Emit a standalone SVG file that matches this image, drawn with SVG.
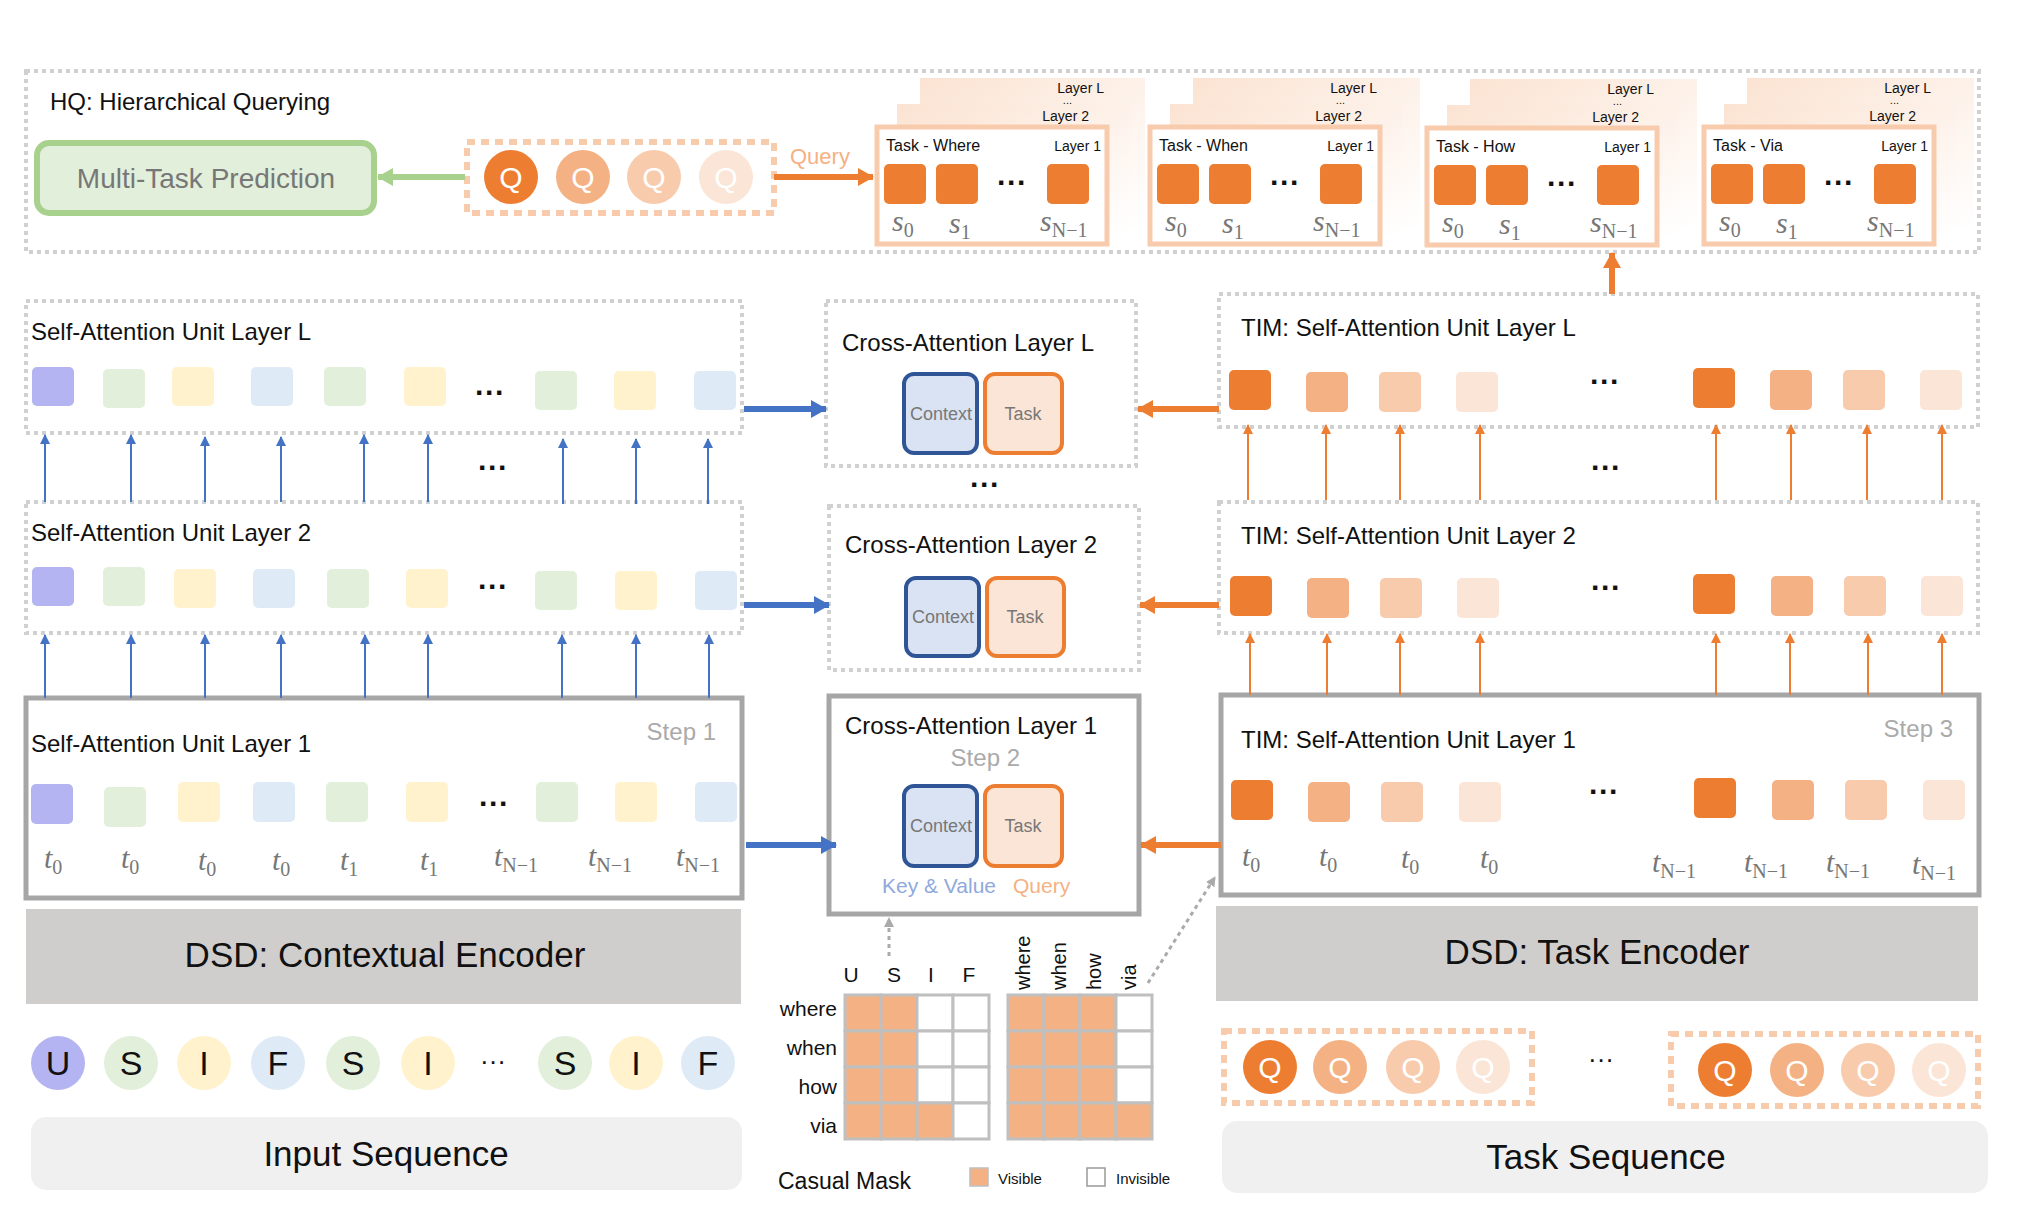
<svg xmlns="http://www.w3.org/2000/svg" width="2020" height="1230" viewBox="0 0 2020 1230">
<style>
text{font-family:"Liberation Sans",Arial,sans-serif}
.k{fill:#111}
.dash{fill:none;stroke:#d0d0d0;stroke-width:4;stroke-dasharray:4 4}
.solid{fill:#fff;stroke:#a6a6a6;stroke-width:5}
.t24{font-size:24px;fill:#111}
.big{font-size:35px;fill:#111}
.small{font-size:14px;fill:#111}
.math{font-family:"Liberation Serif",serif;font-style:italic;font-size:30px;fill:#777}
.sub{font-size:20px;font-style:normal}
.bl{stroke:#4472c4;stroke-width:2}
.or{stroke:#ed7d31;stroke-width:2}
.ctx{fill:#dae3f3;stroke:#2f5597;stroke-width:4}
.tsk{fill:#fbe5d6;stroke:#ed7d31;stroke-width:4}
.lbl{font-size:18px;fill:#777;text-anchor:middle}
.c1{fill:#ed7d31}.c2{fill:#f4b183}.c3{fill:#f8cbad}.c4{fill:#fbe5d6}
.pu{fill:#b4b4f2}.gr{fill:#e2efda}.ye{fill:#fff2cc}.bu{fill:#deebf7}
.q{font-size:30px;fill:#fff;text-anchor:middle}
.qbox{fill:none;stroke:#f8cbad;stroke-width:6;stroke-dasharray:8 6}
.step{font-size:24px;fill:#aaa;text-anchor:end}
.grid{stroke:#bfbfbf;stroke-width:3}
.dots{font-size:30px;text-anchor:middle;font-weight:bold;fill:#111}
</style>
<defs>
<marker id="ab" markerWidth="10" markerHeight="10" refX="9" refY="5" orient="auto" markerUnits="userSpaceOnUse"><path d="M0,0 L10,5 L0,10 Z" fill="#4472c4"/></marker>
<marker id="ao" markerWidth="10" markerHeight="10" refX="9" refY="5" orient="auto" markerUnits="userSpaceOnUse"><path d="M0,0 L10,5 L0,10 Z" fill="#ed7d31"/></marker>
<marker id="abt" markerWidth="16" markerHeight="18" refX="15" refY="9" orient="auto" markerUnits="userSpaceOnUse"><path d="M0,0 L16,9 L0,18 Z" fill="#4472c4"/></marker>
<marker id="aot" markerWidth="16" markerHeight="18" refX="15" refY="9" orient="auto" markerUnits="userSpaceOnUse"><path d="M0,0 L16,9 L0,18 Z" fill="#ed7d31"/></marker>
<marker id="agt" markerWidth="16" markerHeight="18" refX="15" refY="9" orient="auto" markerUnits="userSpaceOnUse"><path d="M0,0 L16,9 L0,18 Z" fill="#a9d18e"/></marker>
<marker id="agr" markerWidth="10" markerHeight="10" refX="9" refY="5" orient="auto" markerUnits="userSpaceOnUse"><path d="M0,0 L10,5 L0,10 Z" fill="#aaa"/></marker>
<linearGradient id="fade" x1="0" y1="0" x2="1" y2="1"><stop offset="0" stop-color="#fbe3d2"/><stop offset="1" stop-color="#fff"/></linearGradient>
</defs>

<g id="hq">
<rect class="dash" x="26" y="71" width="1953" height="181"/>
<text class="t24" x="50" y="110">HQ: Hierarchical Querying</text>
</g>
<g id="mtp">
<rect x="37" y="143" width="337" height="70" rx="12" fill="#e2efda" stroke="#a9d18e" stroke-width="6"/>
<text x="206" y="188" style="font-size:28px;fill:#777" text-anchor="middle">Multi-Task Prediction</text>
</g>
<g id="qtop">
<rect class="qbox" x="467" y="142" width="307" height="71"/>
<circle class="c1" cx="511" cy="177" r="27"/><circle class="c2" cx="583" cy="177" r="27"/><circle class="c3" cx="654" cy="177" r="27"/><circle class="c4" cx="726" cy="177" r="27"/>
<text class="q" x="511" y="188">Q</text><text class="q" x="583" y="188">Q</text><text class="q" x="654" y="188">Q</text><text class="q" x="726" y="188">Q</text>
<text x="790" y="164" style="font-size:22px;fill:#f4b183">Query</text>
</g>

<g id="task-where" transform="translate(877,0)">
<rect x="43" y="78" width="225" height="150" fill="url(#fade)"/><rect x="20" y="104" width="232" height="130" fill="url(#fade)"/>
<rect x="0" y="127" width="230" height="117" fill="#fff" stroke="#f8cbad" stroke-width="5"/>
<text class="small" x="227" y="93" text-anchor="end">Layer L</text><text class="small" x="195" y="104" text-anchor="end" style="font-size:11px">...</text>
<text class="small" x="212" y="121" text-anchor="end">Layer 2</text>
<text class="small" x="224" y="151" text-anchor="end">Layer 1</text>
<text class="k" x="9" y="151" font-size="16">Task - Where</text>
<rect class="c1" x="7" y="164" width="42" height="40" rx="5"/><rect class="c1" x="59" y="164" width="42" height="40" rx="5"/><rect class="c1" x="170" y="164" width="42" height="40" rx="5"/>
<text class="dots" x="135" y="193">···</text>
<text class="math" x="15" y="231">s<tspan class="sub" dy="6">0</tspan></text>
<text class="math" x="72" y="233">s<tspan class="sub" dy="6">1</tspan></text>
<text class="math" x="163" y="231">s<tspan class="sub" dy="6">N−1</tspan></text>
</g>
<g id="task-when" transform="translate(1150,0)">
<rect x="43" y="78" width="227" height="150" fill="url(#fade)"/><rect x="20" y="104" width="232" height="130" fill="url(#fade)"/>
<rect x="0" y="127" width="230" height="117" fill="#fff" stroke="#f8cbad" stroke-width="5"/>
<text class="small" x="227" y="93" text-anchor="end">Layer L</text><text class="small" x="195" y="104" text-anchor="end" style="font-size:11px">...</text>
<text class="small" x="212" y="121" text-anchor="end">Layer 2</text>
<text class="small" x="224" y="151" text-anchor="end">Layer 1</text>
<text class="k" x="9" y="151" font-size="16">Task - When</text>
<rect class="c1" x="7" y="164" width="42" height="40" rx="5"/><rect class="c1" x="59" y="164" width="42" height="40" rx="5"/><rect class="c1" x="170" y="164" width="42" height="40" rx="5"/>
<text class="dots" x="135" y="193">···</text>
<text class="math" x="15" y="231">s<tspan class="sub" dy="6">0</tspan></text>
<text class="math" x="72" y="233">s<tspan class="sub" dy="6">1</tspan></text>
<text class="math" x="163" y="231">s<tspan class="sub" dy="6">N−1</tspan></text>
</g>
<g id="task-how" transform="translate(1427,1)">
<rect x="43" y="78" width="227" height="150" fill="url(#fade)"/><rect x="20" y="104" width="232" height="130" fill="url(#fade)"/>
<rect x="0" y="127" width="230" height="117" fill="#fff" stroke="#f8cbad" stroke-width="5"/>
<text class="small" x="227" y="93" text-anchor="end">Layer L</text><text class="small" x="195" y="104" text-anchor="end" style="font-size:11px">...</text>
<text class="small" x="212" y="121" text-anchor="end">Layer 2</text>
<text class="small" x="224" y="151" text-anchor="end">Layer 1</text>
<text class="k" x="9" y="151" font-size="16">Task - How</text>
<rect class="c1" x="7" y="164" width="42" height="40" rx="5"/><rect class="c1" x="59" y="164" width="42" height="40" rx="5"/><rect class="c1" x="170" y="164" width="42" height="40" rx="5"/>
<text class="dots" x="135" y="193">···</text>
<text class="math" x="15" y="231">s<tspan class="sub" dy="6">0</tspan></text>
<text class="math" x="72" y="233">s<tspan class="sub" dy="6">1</tspan></text>
<text class="math" x="163" y="231">s<tspan class="sub" dy="6">N−1</tspan></text>
</g>
<g id="task-via" transform="translate(1704,0)">
<rect x="43" y="78" width="227" height="150" fill="url(#fade)"/><rect x="20" y="104" width="232" height="130" fill="url(#fade)"/>
<rect x="0" y="127" width="230" height="117" fill="#fff" stroke="#f8cbad" stroke-width="5"/>
<text class="small" x="227" y="93" text-anchor="end">Layer L</text><text class="small" x="195" y="104" text-anchor="end" style="font-size:11px">...</text>
<text class="small" x="212" y="121" text-anchor="end">Layer 2</text>
<text class="small" x="224" y="151" text-anchor="end">Layer 1</text>
<text class="k" x="9" y="151" font-size="16">Task - Via</text>
<rect class="c1" x="7" y="164" width="42" height="40" rx="5"/><rect class="c1" x="59" y="164" width="42" height="40" rx="5"/><rect class="c1" x="170" y="164" width="42" height="40" rx="5"/>
<text class="dots" x="135" y="193">···</text>
<text class="math" x="15" y="231">s<tspan class="sub" dy="6">0</tspan></text>
<text class="math" x="72" y="233">s<tspan class="sub" dy="6">1</tspan></text>
<text class="math" x="163" y="231">s<tspan class="sub" dy="6">N−1</tspan></text>
</g>

<g id="sa-L">
<rect class="dash" x="26" y="301" width="716" height="132"/>
<text class="t24" x="31" y="340">Self-Attention Unit Layer L</text>
<g transform="translate(0,367)">
<rect class="pu" x="32" y="0" width="42" height="39" rx="5"/><rect class="gr" x="103" y="2" width="42" height="39" rx="5"/><rect class="ye" x="172" y="0" width="42" height="39" rx="5"/><rect class="bu" x="251" y="0" width="42" height="39" rx="5"/><rect class="gr" x="324" y="0" width="42" height="39" rx="5"/><rect class="ye" x="404" y="0" width="42" height="39" rx="5"/><rect class="gr" x="535" y="4" width="42" height="39" rx="5"/><rect class="ye" x="614" y="4" width="42" height="39" rx="5"/><rect class="bu" x="694" y="4" width="42" height="39" rx="5"/>
<text class="dots" x="490" y="36">···</text>
</g>
</g>
<g id="sa-2">
<rect class="dash" x="26" y="502" width="716" height="131"/>
<text class="t24" x="31" y="541">Self-Attention Unit Layer 2</text>
<g transform="translate(0,567)">
<rect class="pu" x="32" y="0" width="42" height="39" rx="5"/><rect class="gr" x="103" y="0" width="42" height="39" rx="5"/><rect class="ye" x="174" y="2" width="42" height="39" rx="5"/><rect class="bu" x="253" y="2" width="42" height="39" rx="5"/><rect class="gr" x="327" y="2" width="42" height="39" rx="5"/><rect class="ye" x="406" y="2" width="42" height="39" rx="5"/><rect class="gr" x="535" y="4" width="42" height="39" rx="5"/><rect class="ye" x="615" y="4" width="42" height="39" rx="5"/><rect class="bu" x="695" y="4" width="42" height="39" rx="5"/>
<text class="dots" x="493" y="30">···</text>
</g>
</g>
<g id="sa-1">
<rect class="solid" x="26" y="698" width="716" height="200"/>
<text class="t24" x="31" y="752">Self-Attention Unit Layer 1</text>
<text class="step" x="716" y="740">Step 1</text>
<g transform="translate(0,784)">
<rect class="pu" x="31" y="0" width="42" height="40" rx="5"/><rect class="gr" x="104" y="3" width="42" height="40" rx="5"/><rect class="ye" x="178" y="-2" width="42" height="40" rx="5"/><rect class="bu" x="253" y="-2" width="42" height="40" rx="5"/><rect class="gr" x="326" y="-2" width="42" height="40" rx="5"/><rect class="ye" x="406" y="-2" width="42" height="40" rx="5"/><rect class="gr" x="536" y="-2" width="42" height="40" rx="5"/><rect class="ye" x="615" y="-2" width="42" height="40" rx="5"/><rect class="bu" x="695" y="-2" width="42" height="40" rx="5"/>
<text class="dots" x="494" y="30">···</text>
</g>
<text class="math" x="44" y="868">t<tspan class="sub" dy="6">0</tspan></text>
<text class="math" x="121" y="868">t<tspan class="sub" dy="6">0</tspan></text>
<text class="math" x="198" y="870">t<tspan class="sub" dy="6">0</tspan></text>
<text class="math" x="272" y="870">t<tspan class="sub" dy="6">0</tspan></text>
<text class="math" x="340" y="870">t<tspan class="sub" dy="6">1</tspan></text>
<text class="math" x="420" y="870">t<tspan class="sub" dy="6">1</tspan></text>
<text class="math" x="494" y="866">t<tspan class="sub" dy="6">N−1</tspan></text>
<text class="math" x="588" y="866">t<tspan class="sub" dy="6">N−1</tspan></text>
<text class="math" x="676" y="866">t<tspan class="sub" dy="6">N−1</tspan></text>
</g>
<g id="dsd-ctx">
<rect x="26" y="909" width="715" height="95" fill="#d0cecc"/>
<text class="big" x="385" y="967" text-anchor="middle">DSD: Contextual Encoder</text>
</g>
<g id="input-tokens">
<circle class="pu" cx="58" cy="1063" r="27"/><circle class="gr" cx="131" cy="1063" r="27"/><circle class="ye" cx="204" cy="1063" r="27"/><circle class="bu" cx="278" cy="1063" r="27"/><circle class="gr" cx="353" cy="1063" r="27"/><circle class="ye" cx="428" cy="1063" r="27"/><circle class="gr" cx="565" cy="1063" r="27"/><circle class="ye" cx="636" cy="1063" r="27"/><circle class="bu" cx="708" cy="1063" r="27"/>
<g text-anchor="middle" style="font-family:'DejaVu Sans Mono',monospace;font-size:34px;fill:#111">
<text x="58" y="1075">U</text><text x="131" y="1075">S</text><text x="204" y="1075">I</text><text x="278" y="1075">F</text><text x="353" y="1075">S</text><text x="428" y="1075">I</text><text x="565" y="1075">S</text><text x="636" y="1075">I</text><text x="708" y="1075">F</text>
<text x="493" y="1070" style="font-size:26px">···</text>
</g>
</g>
<g id="input-seq">
<rect x="31" y="1117" width="711" height="73" rx="15" fill="#f0f0f0"/>
<text class="big" x="386" y="1166" text-anchor="middle">Input Sequence</text>
</g>

<g id="ca-L">
<rect class="dash" x="826" y="301" width="310" height="165"/>
<text class="t24" x="842" y="351">Cross-Attention  Layer L</text>
<rect class="ctx" x="904" y="374" width="73" height="79" rx="10"/><rect class="tsk" x="985" y="374" width="77" height="79" rx="10"/>
<text class="lbl" x="941" y="420">Context</text><text class="lbl" x="1023" y="420">Task</text>
</g>
<text class="dots" x="985" y="495">···</text>
<g id="ca-2">
<rect class="dash" x="829" y="506" width="310" height="164"/>
<text class="t24" x="845" y="553">Cross-Attention  Layer 2</text>
<rect class="ctx" x="906" y="578" width="73" height="78" rx="10"/><rect class="tsk" x="987" y="578" width="77" height="78" rx="10"/>
<text class="lbl" x="943" y="623">Context</text><text class="lbl" x="1025" y="623">Task</text>
</g>
<g id="ca-1">
<rect class="solid" x="829" y="696" width="310" height="218"/>
<text class="t24" x="845" y="734">Cross-Attention  Layer 1</text>
<text class="step" x="1020" y="766">Step 2</text>
<rect class="ctx" x="904" y="786" width="73" height="80" rx="10"/><rect class="tsk" x="985" y="786" width="77" height="80" rx="10"/>
<text class="lbl" x="941" y="832">Context</text><text class="lbl" x="1023" y="832">Task</text>
<text x="882" y="893" style="font-size:21px;fill:#8fa9dc">Key &amp; Value</text>
<text x="1013" y="893" style="font-size:21px;fill:#f4b183">Query</text>
</g>

<g id="mask">
<g text-anchor="middle" style="font-size:21px;fill:#111"><text x="851" y="982">U</text><text x="894" y="982">S</text><text x="931" y="982">I</text><text x="969" y="982">F</text></g>
<g text-anchor="end" style="font-size:21px;fill:#111"><text x="837" y="1016">where</text><text x="837" y="1055">when</text><text x="837" y="1094">how</text><text x="837" y="1133">via</text></g>
<g style="font-size:20px;fill:#111">
<text transform="translate(1030,990) rotate(-90)">where</text>
<text transform="translate(1066,990) rotate(-90)">when</text>
<text transform="translate(1101,990) rotate(-90)">how</text>
<text transform="translate(1136,990) rotate(-90)">via</text>
</g>
<g class="grid">
<rect x="845" y="995" width="36" height="36" fill="#f4b183"/><rect x="881" y="995" width="36" height="36" fill="#f4b183"/><rect x="917" y="995" width="36" height="36" fill="#fff"/><rect x="953" y="995" width="36" height="36" fill="#fff"/>
<rect x="845" y="1031" width="36" height="36" fill="#f4b183"/><rect x="881" y="1031" width="36" height="36" fill="#f4b183"/><rect x="917" y="1031" width="36" height="36" fill="#fff"/><rect x="953" y="1031" width="36" height="36" fill="#fff"/>
<rect x="845" y="1067" width="36" height="36" fill="#f4b183"/><rect x="881" y="1067" width="36" height="36" fill="#f4b183"/><rect x="917" y="1067" width="36" height="36" fill="#fff"/><rect x="953" y="1067" width="36" height="36" fill="#fff"/>
<rect x="845" y="1103" width="36" height="36" fill="#f4b183"/><rect x="881" y="1103" width="36" height="36" fill="#f4b183"/><rect x="917" y="1103" width="36" height="36" fill="#f4b183"/><rect x="953" y="1103" width="36" height="36" fill="#fff"/>
<rect x="1008" y="995" width="36" height="36" fill="#f4b183"/><rect x="1044" y="995" width="36" height="36" fill="#f4b183"/><rect x="1080" y="995" width="36" height="36" fill="#f4b183"/><rect x="1116" y="995" width="36" height="36" fill="#fff"/>
<rect x="1008" y="1031" width="36" height="36" fill="#f4b183"/><rect x="1044" y="1031" width="36" height="36" fill="#f4b183"/><rect x="1080" y="1031" width="36" height="36" fill="#f4b183"/><rect x="1116" y="1031" width="36" height="36" fill="#fff"/>
<rect x="1008" y="1067" width="36" height="36" fill="#f4b183"/><rect x="1044" y="1067" width="36" height="36" fill="#f4b183"/><rect x="1080" y="1067" width="36" height="36" fill="#f4b183"/><rect x="1116" y="1067" width="36" height="36" fill="#fff"/>
<rect x="1008" y="1103" width="36" height="36" fill="#f4b183"/><rect x="1044" y="1103" width="36" height="36" fill="#f4b183"/><rect x="1080" y="1103" width="36" height="36" fill="#f4b183"/><rect x="1116" y="1103" width="36" height="36" fill="#f4b183"/>
</g>
<text x="778" y="1189" style="font-size:23px;fill:#111">Casual Mask</text>
<rect x="970" y="1168" width="18" height="18" fill="#f4b183" stroke="#bfbfbf" stroke-width="1.5"/>
<text x="998" y="1184" style="font-size:15px;fill:#111">Visible</text>
<rect x="1087" y="1168" width="18" height="18" fill="#fff" stroke="#999" stroke-width="1.5"/>
<text x="1116" y="1184" style="font-size:15px;fill:#111">Invisible</text>
</g>

<g id="tim-L">
<rect class="dash" x="1219" y="294" width="759" height="133"/>
<text class="t24" x="1241" y="336">TIM: Self-Attention Unit Layer L</text>
<g transform="translate(0,370)">
<rect class="c1" x="1229" y="0" width="42" height="40" rx="5"/><rect class="c2" x="1306" y="2" width="42" height="40" rx="5"/><rect class="c3" x="1379" y="2" width="42" height="40" rx="5"/><rect class="c4" x="1456" y="2" width="42" height="40" rx="5"/><rect class="c1" x="1693" y="-2" width="42" height="40" rx="5"/><rect class="c2" x="1770" y="0" width="42" height="40" rx="5"/><rect class="c3" x="1843" y="0" width="42" height="40" rx="5"/><rect class="c4" x="1920" y="0" width="42" height="40" rx="5"/>
<text class="dots" x="1605" y="22">···</text>
</g>
</g>
<g id="tim-2">
<rect class="dash" x="1219" y="502" width="759" height="131"/>
<text class="t24" x="1241" y="544">TIM: Self-Attention Unit Layer 2</text>
<g transform="translate(0,576)">
<rect class="c1" x="1230" y="0" width="42" height="40" rx="5"/><rect class="c2" x="1307" y="2" width="42" height="40" rx="5"/><rect class="c3" x="1380" y="2" width="42" height="40" rx="5"/><rect class="c4" x="1457" y="2" width="42" height="40" rx="5"/><rect class="c1" x="1693" y="-2" width="42" height="40" rx="5"/><rect class="c2" x="1771" y="0" width="42" height="40" rx="5"/><rect class="c3" x="1844" y="0" width="42" height="40" rx="5"/><rect class="c4" x="1921" y="0" width="42" height="40" rx="5"/>
<text class="dots" x="1606" y="22">···</text>
</g>
</g>
<g id="tim-1">
<rect class="solid" x="1221" y="695" width="758" height="200"/>
<text class="t24" x="1241" y="748">TIM: Self-Attention Unit Layer 1</text>
<text class="step" x="1953" y="737">Step 3</text>
<g transform="translate(0,780)">
<rect class="c1" x="1231" y="0" width="42" height="40" rx="5"/><rect class="c2" x="1308" y="2" width="42" height="40" rx="5"/><rect class="c3" x="1381" y="2" width="42" height="40" rx="5"/><rect class="c4" x="1459" y="2" width="42" height="40" rx="5"/><rect class="c1" x="1694" y="-2" width="42" height="40" rx="5"/><rect class="c2" x="1772" y="0" width="42" height="40" rx="5"/><rect class="c3" x="1845" y="0" width="42" height="40" rx="5"/><rect class="c4" x="1923" y="0" width="42" height="40" rx="5"/>
<text class="dots" x="1604" y="22">···</text>
</g>
<text class="math" x="1242" y="866">t<tspan class="sub" dy="6">0</tspan></text>
<text class="math" x="1319" y="866">t<tspan class="sub" dy="6">0</tspan></text>
<text class="math" x="1401" y="868">t<tspan class="sub" dy="6">0</tspan></text>
<text class="math" x="1480" y="868">t<tspan class="sub" dy="6">0</tspan></text>
<text class="math" x="1652" y="872">t<tspan class="sub" dy="6">N−1</tspan></text>
<text class="math" x="1744" y="872">t<tspan class="sub" dy="6">N−1</tspan></text>
<text class="math" x="1826" y="872">t<tspan class="sub" dy="6">N−1</tspan></text>
<text class="math" x="1912" y="874">t<tspan class="sub" dy="6">N−1</tspan></text>
</g>
<g id="dsd-task">
<rect x="1216" y="906" width="762" height="95" fill="#d0cecc"/>
<text class="big" x="1597" y="964" text-anchor="middle">DSD: Task Encoder</text>
</g>
<g id="task-queries">
<rect class="qbox" x="1224" y="1031" width="308" height="72"/>
<circle class="c1" cx="1270" cy="1067" r="27"/><circle class="c2" cx="1340" cy="1067" r="27"/><circle class="c3" cx="1413" cy="1067" r="27"/><circle class="c4" cx="1483" cy="1067" r="27"/>
<text class="q" x="1270" y="1078">Q</text><text class="q" x="1340" y="1078">Q</text><text class="q" x="1413" y="1078">Q</text><text class="q" x="1483" y="1078">Q</text>
<text x="1601" y="1068" style="font-size:26px;fill:#111" text-anchor="middle">···</text>
<rect class="qbox" x="1671" y="1034" width="307" height="72"/>
<circle class="c1" cx="1725" cy="1070" r="27"/><circle class="c2" cx="1797" cy="1070" r="27"/><circle class="c3" cx="1868" cy="1070" r="27"/><circle class="c4" cx="1939" cy="1070" r="27"/>
<text class="q" x="1725" y="1081">Q</text><text class="q" x="1797" y="1081">Q</text><text class="q" x="1868" y="1081">Q</text><text class="q" x="1939" y="1081">Q</text>
</g>
<g id="task-seq">
<rect x="1222" y="1121" width="766" height="72" rx="15" fill="#f0f0f0"/>
<text class="big" x="1606" y="1169" text-anchor="middle">Task Sequence</text>
</g>

<g id="connectors" fill="none">
<line x1="465" y1="177" x2="378" y2="177" stroke="#a9d18e" stroke-width="6" marker-end="url(#agt)"/>
<line x1="774" y1="177" x2="873" y2="177" stroke="#ed7d31" stroke-width="6" marker-end="url(#aot)"/>
<line x1="1612" y1="294" x2="1612" y2="253" stroke="#ed7d31" stroke-width="6" marker-end="url(#aot)"/>
<line x1="744" y1="409" x2="826" y2="409" stroke="#4472c4" stroke-width="6" marker-end="url(#abt)"/>
<line x1="744" y1="605" x2="829" y2="605" stroke="#4472c4" stroke-width="6" marker-end="url(#abt)"/>
<line x1="746" y1="845" x2="836" y2="845" stroke="#4472c4" stroke-width="6" marker-end="url(#abt)"/>
<line x1="1219" y1="409" x2="1138" y2="409" stroke="#ed7d31" stroke-width="6" marker-end="url(#aot)"/>
<line x1="1219" y1="605" x2="1140" y2="605" stroke="#ed7d31" stroke-width="6" marker-end="url(#aot)"/>
<line x1="1221" y1="845" x2="1141" y2="845" stroke="#ed7d31" stroke-width="6" marker-end="url(#aot)"/>
<line x1="889" y1="956" x2="889" y2="918" stroke="#aaa" stroke-width="3" stroke-dasharray="4 4" marker-end="url(#agr)"/>
<line x1="1148" y1="983" x2="1215" y2="877" stroke="#aaa" stroke-width="3" stroke-dasharray="4 4" marker-end="url(#agr)"/>
<g class="bl">
<line x1="45" y1="502" x2="45" y2="435" marker-end="url(#ab)"/><line x1="131" y1="502" x2="131" y2="435" marker-end="url(#ab)"/><line x1="205" y1="502" x2="205" y2="437" marker-end="url(#ab)"/><line x1="281" y1="502" x2="281" y2="437" marker-end="url(#ab)"/><line x1="364" y1="502" x2="364" y2="435" marker-end="url(#ab)"/><line x1="428" y1="502" x2="428" y2="435" marker-end="url(#ab)"/><line x1="563" y1="504" x2="563" y2="439" marker-end="url(#ab)"/><line x1="636" y1="504" x2="636" y2="439" marker-end="url(#ab)"/><line x1="708" y1="504" x2="708" y2="439" marker-end="url(#ab)"/>
<line x1="45" y1="698" x2="45" y2="635" marker-end="url(#ab)"/><line x1="131" y1="698" x2="131" y2="635" marker-end="url(#ab)"/><line x1="205" y1="698" x2="205" y2="635" marker-end="url(#ab)"/><line x1="281" y1="698" x2="281" y2="635" marker-end="url(#ab)"/><line x1="365" y1="698" x2="365" y2="635" marker-end="url(#ab)"/><line x1="428" y1="698" x2="428" y2="635" marker-end="url(#ab)"/><line x1="562" y1="698" x2="562" y2="635" marker-end="url(#ab)"/><line x1="636" y1="698" x2="636" y2="635" marker-end="url(#ab)"/><line x1="709" y1="698" x2="709" y2="635" marker-end="url(#ab)"/>
</g>
<text class="dots" x="493" y="478">···</text>
<g class="or">
<line x1="1248" y1="500" x2="1248" y2="425" marker-end="url(#ao)"/><line x1="1326" y1="500" x2="1326" y2="425" marker-end="url(#ao)"/><line x1="1400" y1="500" x2="1400" y2="425" marker-end="url(#ao)"/><line x1="1480" y1="500" x2="1480" y2="425" marker-end="url(#ao)"/><line x1="1716" y1="500" x2="1716" y2="425" marker-end="url(#ao)"/><line x1="1791" y1="500" x2="1791" y2="425" marker-end="url(#ao)"/><line x1="1867" y1="500" x2="1867" y2="425" marker-end="url(#ao)"/><line x1="1942" y1="500" x2="1942" y2="425" marker-end="url(#ao)"/>
<line x1="1250" y1="695" x2="1250" y2="634" marker-end="url(#ao)"/><line x1="1327" y1="695" x2="1327" y2="634" marker-end="url(#ao)"/><line x1="1400" y1="695" x2="1400" y2="634" marker-end="url(#ao)"/><line x1="1480" y1="695" x2="1480" y2="634" marker-end="url(#ao)"/><line x1="1716" y1="695" x2="1716" y2="634" marker-end="url(#ao)"/><line x1="1790" y1="695" x2="1790" y2="634" marker-end="url(#ao)"/><line x1="1868" y1="695" x2="1868" y2="634" marker-end="url(#ao)"/><line x1="1942" y1="695" x2="1942" y2="634" marker-end="url(#ao)"/>
</g>
<text class="dots" x="1606" y="478">···</text>
</g>
</svg>
